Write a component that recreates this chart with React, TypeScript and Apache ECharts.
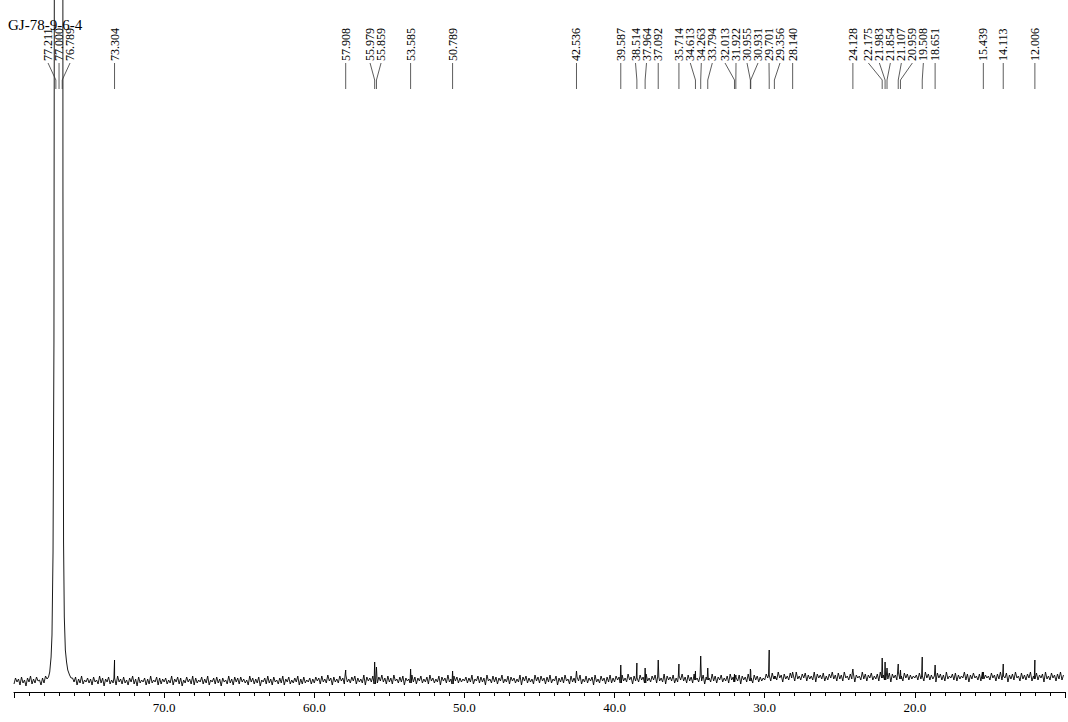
import React, { useEffect, useRef } from "react";
import * as echarts from "echarts";

// ---- data -----------------------------------------------------------------
const title = "GJ-78-9-6-4";

// axis range (ppm) and labelled ticks
const ppmMin = 10;
const ppmMax = 80;
const tickLabels = [70, 60, 50, 40, 30, 20];

// baseline trace (height above axis); each row covers 5 ppm, starting at 80 ppm
const rowStart = 80;
const rowSpan = 5;
const baselineRows: number[][] = [
  [8,14,10,13,7,15,9,12,6,14,10,16,8,13,9,15,11,12,7,14,9,16,8,13,10,15,6,12,9,14,8,16,10,13,7,15,9,12,8,14,10,15,7,13,9,16,8,12,10,14],
  [9,13,7,15,10,12,8,16,9,14,6,13,10,15,8,12,9,14,7,16,10,13,8,15,9,12,7,14,10,16,8,13,6,15,9,12,10,14,7,13,8,16,9,12,10,15,7,14,8,13],
  [10,14,8,12,9,16,7,13,10,15,8,14,6,12,9,15,10,13,8,16,7,14,9,12,10,15,8,13,9,16,7,12,10,14,8,15,9,13,6,14,10,12,8,16,9,13,7,15,10,14],
  [8,15,10,13,9,12,7,16,10,14,8,13,9,15,6,12,10,14,8,16,9,13,7,15,10,12,8,14,9,16,7,13,10,15,8,12,9,14,10,16,7,13,8,15,9,12,10,14,8,13],
  [9,15,11,14,8,16,10,13,9,17,11,14,7,15,10,13,9,16,11,14,8,17,10,13,9,15,11,16,8,14,10,13,9,17,7,15,11,14,10,16,8,13,9,15,11,17,10,14,8,16],
  [10,14,8,17,11,13,9,15,10,16,7,14,11,13,9,17,10,15,8,14,11,16,9,13,10,15,8,17,11,14,9,13,10,16,7,15,11,14,9,17,10,13,8,16,11,15,9,14,10,13],
  [11,15,9,14,10,17,8,13,11,16,9,15,10,14,7,17,11,13,9,16,10,15,8,14,11,17,9,13,10,16,8,15,11,14,9,13,10,17,7,15,11,16,9,14,10,13,8,17,11,15],
  [9,16,11,14,8,15,10,17,9,13,11,16,7,14,10,15,9,17,11,13,8,16,10,14,9,15,11,17,8,13,10,16,9,14,11,15,7,17,10,13,9,16,11,14,8,15,10,17,9,14],
  [10,16,12,15,9,17,11,14,10,18,12,15,8,16,11,14,10,17,12,15,9,18,11,14,10,16,12,17,9,15,11,14,10,18,8,16,12,15,11,17,9,14,10,16,12,18,11,15,9,17],
  [11,15,9,18,12,14,10,16,11,17,8,15,12,14,10,18,11,16,9,15,12,17,10,14,11,16,9,18,12,15,10,14,11,17,8,16,12,15,10,18,11,14,9,17,12,16,10,15,11,14],
  [12,18,14,17,11,19,13,16,12,20,14,17,10,18,13,16,12,19,14,17,11,20,13,16,12,18,14,19,11,17,13,16,12,20,10,18,14,17,13,19,11,16,12,18,14,20,13,17,11,19],
  [13,17,11,20,14,16,12,18,13,19,10,17,14,16,12,20,13,18,11,17,14,19,12,16,13,18,11,20,14,17,12,16,13,19,10,18,14,17,12,20,13,16,11,19,14,18,12,17,13,16],
  [14,17,12,19,13,16,11,20,14,18,12,17,13,16,10,19,14,18,12,17,11,20,13,16,14,18,12,19,11,17,13,16,14,20,12,18,10,17,13,19,14,16,12,18,11,20,13,17,14,16],
  [12,19,14,17,11,18,13,20,12,16,14,19,10,17,13,18,12,20,14,16,11,19,13,17,12,18,14,20,11,16,13,19,12,17,14,18,10,20,13,16,12,19,14,17,11,18,13,20,12,17],
];

// CDCl3 solvent triplet outline (ppm, height) – runs off the top of the plot
const solventPpm = [
  77.8, 77.7, 77.62, 77.53, 77.47, 77.4, 77.34, 77.28, 77.211, 77.12, 77.0, 76.9, 76.789, 76.74,
  76.7, 76.65, 76.58, 76.5, 76.42, 76.3, 76.2,
];
const solventHeight = [
  13, 15, 20, 35, 57, 140, 350, 1200, 3000, 1000, 3000, 1000, 3000, 500,
  150, 75, 42, 30, 22, 17, 14,
];

// sample peaks (ppm, height above axis)
const peakPpm = [
  73.304, 57.908, 55.979, 55.859, 53.585, 50.789, 42.536, 39.587, 38.514, 37.964, 37.092, 35.714,
  34.613, 34.263, 33.794, 32.013, 31.922, 30.955, 30.931, 29.701, 29.356, 28.14, 24.128, 22.175,
  21.983, 21.854, 21.107, 20.959, 19.508, 18.651, 15.439, 14.113, 12.006,
];
const peakHeight = [
  32, 22, 30, 25, 23, 21, 21, 27, 29, 24, 32, 28,
  21, 36, 24, 18, 17, 23, 21, 42, 16, 20, 23, 34,
  30, 24, 28, 22, 35, 27, 20, 28, 32,
];

// peak-pick labels printed along the top
const labelPpm = [
  77.211, 77.0, 76.789, 73.304, 57.908, 55.979, 55.859, 53.585, 50.789, 42.536, 39.587, 38.514,
  37.964, 37.092, 35.714, 34.613, 34.263, 33.794, 32.013, 31.922, 30.955, 30.931, 29.701, 29.356,
  28.14, 24.128, 22.175, 21.983, 21.854, 21.107, 20.959, 19.508, 18.651, 15.439, 14.113, 12.006,
];

// ---- layout constants -----------------------------------------------------
const W = 1068;
const H = 722;
const GRID_LEFT = 14;
const GRID_WIDTH = 1057;
const AXIS_Y = 692;
const LABEL_GAP = 11;
const LABEL_BOTTOM = 61;
const LEADER_TOP = 63;
const LEADER_KNEE = 80;
const LEADER_END = 89;
const SERIF = '"Liberation Serif", "Times New Roman", serif';

function buildTrace(): [number, number][] {
  const samples: [number, number][] = [];
  baselineRows.forEach((row, r) => {
    const start = rowStart - r * rowSpan;
    row.forEach((h, j) => {
      samples.push([+(start - (j * rowSpan) / row.length).toFixed(4), h]);
    });
  });
  const solHi = solventPpm[0];
  const solLo = solventPpm[solventPpm.length - 1];
  const pts: [number, number][] = samples.filter(([p]) => p > solHi || p < solLo);
  solventPpm.forEach((p, i) => pts.push([p, solventHeight[i]]));
  peakPpm.forEach((p, i) => {
    let base = samples[0][1];
    let best = Infinity;
    samples.forEach(([sp, sh]) => {
      const d = Math.abs(sp - p);
      if (d < best) {
        best = d;
        base = sh;
      }
    });
    pts.push([p + 0.04, base], [p, peakHeight[i]], [p - 0.04, base]);
  });
  pts.sort((a, b) => b[0] - a[0]);
  return pts;
}

function spreadLabels(xs: number[], gap: number): number[] {
  const order = xs.map((_, i) => i).sort((a, b) => xs[a] - xs[b]);
  let clusters = order.map((i) => ({ members: [i], center: xs[i] }));
  let merged = true;
  while (merged) {
    merged = false;
    for (let k = 0; k < clusters.length - 1; k++) {
      const a = clusters[k];
      const b = clusters[k + 1];
      const aEnd = a.center + ((a.members.length - 1) * gap) / 2;
      const bStart = b.center - ((b.members.length - 1) * gap) / 2;
      if (bStart - aEnd < gap - 1e-6) {
        const members = a.members.concat(b.members);
        const center = members.reduce((s, i) => s + xs[i], 0) / members.length;
        clusters.splice(k, 2, { members, center });
        merged = true;
        break;
      }
    }
  }
  const out: number[] = new Array(xs.length).fill(0);
  clusters.forEach((c) =>
    c.members.forEach((i, j) => {
      out[i] = c.center + (j - (c.members.length - 1) / 2) * gap;
    })
  );
  return out;
}

export default function App() {
  const ref = useRef<HTMLDivElement>(null);

  useEffect(() => {
    if (!ref.current) return;
    const chart = echarts.init(ref.current, undefined, { renderer: "svg" });
    const trace = buildTrace();

    const option: any = {
      animation: false,
      backgroundColor: "#ffffff",
      grid: { left: GRID_LEFT, top: 0, width: GRID_WIDTH, height: AXIS_Y },
      xAxis: {
        type: "value",
        min: ppmMin,
        max: ppmMax,
        interval: 10,
        inverse: true,
        axisLine: { show: true, onZero: false, lineStyle: { color: "#000", width: 1 } },
        axisTick: { show: true, length: 6, lineStyle: { color: "#000", width: 1 } },
        minorTick: { show: true, splitNumber: 10, length: 4, lineStyle: { color: "#000", width: 1 } },
        splitLine: { show: false },
        minorSplitLine: { show: false },
        axisLabel: {
          margin: 9,
          color: "#000",
          fontFamily: SERIF,
          fontSize: 13,
          showMinLabel: true,
          showMaxLabel: true,
          formatter: (v: number) => (tickLabels.indexOf(Math.round(v)) >= 0 ? v.toFixed(1) : ""),
        },
      },
      yAxis: { type: "value", min: 0, max: AXIS_Y, show: false },
      series: [
        {
          type: "line",
          data: trace,
          showSymbol: false,
          symbol: "none",
          clip: true,
          lineStyle: { color: "#000", width: 0.9 },
          z: 2,
        },
        {
          type: "custom",
          coordinateSystem: "cartesian2d",
          clip: false,
          z: 3,
          data: labelPpm.map((p) => [p, 0]),
          renderItem: (params: any, api: any) => {
            const pxs = labelPpm.map((p) => api.coord([p, 0])[0]);
            const lxs = spreadLabels(pxs, LABEL_GAP);
            const i = params.dataIndex;
            const px = pxs[i];
            const lx = lxs[i];
            return {
              type: "group",
              children: [
                {
                  type: "polyline",
                  shape: {
                    points: [
                      [lx, LEADER_TOP],
                      [px, LEADER_KNEE],
                      [px, LEADER_END],
                    ],
                  },
                  style: { stroke: "#333", lineWidth: 0.8, fill: null },
                },
                {
                  type: "text",
                  x: lx,
                  y: LABEL_BOTTOM,
                  rotation: Math.PI / 2,
                  style: {
                    text: labelPpm[i].toFixed(3),
                    font: `12px ${SERIF}`,
                    fill: "#000",
                    align: "left",
                    verticalAlign: "middle",
                    textAlign: "left",
                    textVerticalAlign: "middle",
                  },
                },
              ],
            };
          },
        },
      ],
      graphic: [
        {
          type: "text",
          left: 8,
          top: 17,
          z: 10,
          style: {
            text: title,
            font: `15px ${SERIF}`,
            fill: "#000",
          },
        },
      ],
    };
    chart.setOption(option);
    return () => chart.dispose();
  }, []);

  return (
    <div
      ref={ref}
      style={{ position: "absolute", left: 0, top: 0, width: W, height: H, background: "#fff" }}
    />
  );
}
